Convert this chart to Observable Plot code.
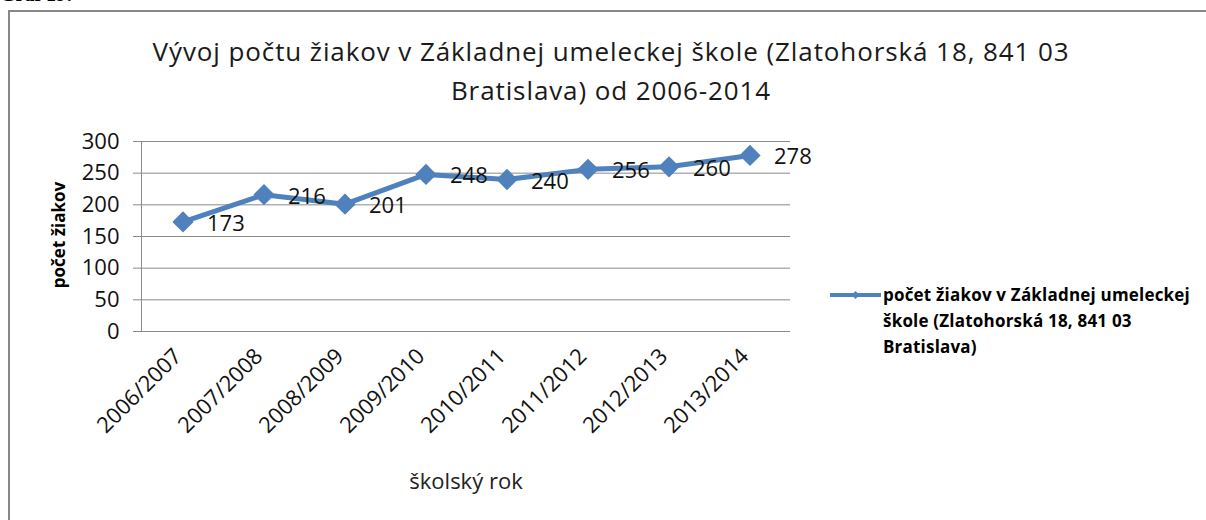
<!DOCTYPE html>
<html>
<head>
<meta charset="utf-8">
<script src="https://cdn.jsdelivr.net/npm/d3@7"></script>
<script src="https://cdn.jsdelivr.net/npm/@observablehq/plot@0.6"></script>
<style>
  html, body { margin: 0; padding: 0; background: #fff; }
  #wrap { position: relative; width: 1206px; height: 520px; overflow: hidden; background: #fff; font-family: "Open Sans", Lato, sans-serif; }
  #graf { position: absolute; left: 0; top: -17px; font: bold 20px "Liberation Serif", serif; color: #000; }
  #box { position: absolute; left: 8px; top: 10px; width: 1400px; height: 700px; border: 2px solid #878787; box-sizing: border-box; }
  #title { position: absolute; left: 0; top: 32px; width: 1222px; text-align: center; font-size: 26px; letter-spacing: 0.9px; line-height: 39px; color: #1a1a1a; }
  #chart { position: absolute; left: 0; top: 110px; }
  #ytitle { position: absolute; left: 58px; top: 235px; transform: translate(-50%, -50%) rotate(-90deg); white-space: nowrap; font-weight: bold; font-size: 17px; color: #000; }
  #legend { position: absolute; left: 828px; top: 282px; }
  #legend svg { position: absolute; left: 0; top: 2px; }
  #legend .txt { position: absolute; left: 55px; top: 0; white-space: nowrap; font-weight: bold; font-size: 17px; letter-spacing: 0.2px; line-height: 26px; color: #000; }
</style>
</head>
<body>
<div id="wrap">
  <div id="graf">Graf 19:</div>
  <div id="box"></div>
  <div id="title"></div>
  <div id="chart"></div>
  <div id="ytitle"></div>
  <div id="legend"></div>
</div>
<script>
// ---- data ----
const years = ["2006/2007", "2007/2008", "2008/2009", "2009/2010", "2010/2011", "2011/2012", "2012/2013", "2013/2014"];
const counts = [173, 216, 201, 248, 240, 256, 260, 278];
const yTicks = [0, 50, 100, 150, 200, 250, 300];
const titleLines = ["Vývoj počtu žiakov v Základnej umeleckej škole (Zlatohorská 18, 841 03", "Bratislava) od 2006-2014"];
const yTitle = "počet žiakov";
const xTitle = "školský rok";
const legendLines = ["počet žiakov v Základnej umeleckej", "škole (Zlatohorská 18, 841 03", "Bratislava)"];

const data = years.map((year, i) => ({ year, count: counts[i] }));
const blue = "#4F81BD";
const gray = "#8a8a8a";
const font = "'Open Sans', Lato, sans-serif";

document.getElementById("title").innerHTML = titleLines.join("<br>");
document.getElementById("ytitle").textContent = yTitle;

const chart = Plot.plot({
  width: 1206,
  height: 400,
  marginLeft: 141,
  marginRight: 416,
  marginTop: 31,
  marginBottom: 179,
  style: { fontFamily: font, background: "transparent", overflow: "visible", color: "#111" },
  x: { type: "band", domain: years, padding: 0 },
  y: { domain: [0, 300] },
  marks: [
    Plot.gridY(yTicks, { stroke: gray, strokeOpacity: 1 }),
    Plot.frame({ anchor: "left", stroke: gray, strokeOpacity: 1 }),
    Plot.axisY(yTicks, { tickSize: 8, tickPadding: 14, fontSize: 22, stroke: gray, strokeOpacity: 1, fill: "#111", label: null }),
    Plot.axisX({ tickSize: 0, tickPadding: 14, tickRotate: -45, fontSize: 22, dx: -5, dy: 7, fill: "#111", label: null }),
    Plot.axisX({ ticks: [], tickSize: 0, fontSize: 22, fill: "#222", label: xTitle, labelAnchor: "center", labelArrow: "none", labelOffset: 157 }),
    Plot.lineY(data, { x: "year", y: "count", stroke: blue, strokeWidth: 5 }),
    Plot.dot(data, { x: "year", y: "count", symbol: "square", r: 8.5, rotate: 45, fill: blue, stroke: "none" }),
    Plot.text(data, { x: "year", y: "count", text: d => String(d.count), textAnchor: "start", dx: 24, dy: 2, fontSize: 22, fill: "#111" })
  ]
});
document.getElementById("chart").appendChild(chart);

// legend
const lg = document.getElementById("legend");
const ns = "http://www.w3.org/2000/svg";
const ls = document.createElementNS(ns, "svg");
ls.setAttribute("width", 56); ls.setAttribute("height", 24);
ls.innerHTML = `<line x1="2" x2="53" y1="11" y2="11" stroke="${blue}" stroke-width="4"/>` +
  `<path d="M27.5,7 L31.5,11 L27.5,15 L23.5,11 Z" fill="${blue}"/>`;
lg.appendChild(ls);
const lt = document.createElement("div");
lt.className = "txt";
lt.innerHTML = legendLines.join("<br>");
lg.appendChild(lt);
</script>
</body>
</html>
